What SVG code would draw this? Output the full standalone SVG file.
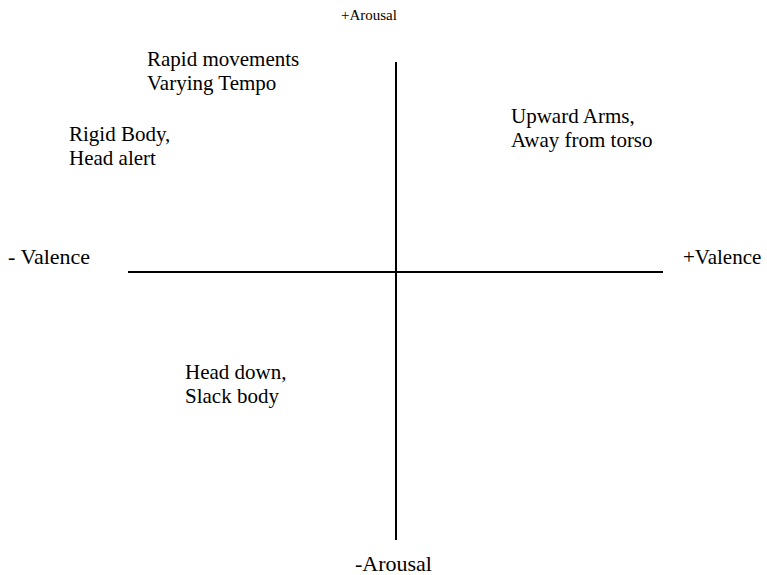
<svg xmlns="http://www.w3.org/2000/svg" width="767" height="575" viewBox="0 0 767 575">
<style>
text{font-family:"Liberation Serif","Times New Roman","DejaVu Serif",serif;font-size:21px;fill:#000}
.small{font-size:15px}
.big{font-size:22px}
.ax{stroke:#000;stroke-width:2;fill:none}
</style>
<rect width="767" height="575" fill="#fff"/>
<g id="axes">
<line class="ax" x1="396" y1="62" x2="396" y2="540"/>
<line class="ax" x1="128" y1="272" x2="663" y2="272"/>
</g>
<g id="axis-labels" font-family="Liberation Serif, serif">
<text class="small" x="341" y="20">+Arousal</text>
<text class="big" x="355" y="571">-Arousal</text>
<text class="big" x="8" y="264">- Valence</text>
<text x="683" y="264">+Valence</text>
</g>
<g id="node-rapid" font-family="Liberation Serif, serif"><text x="147" y="66">Rapid movements</text><text x="147" y="90">Varying Tempo</text></g>
<g id="node-rigid" font-family="Liberation Serif, serif"><text x="69" y="141">Rigid Body,</text><text x="69" y="165">Head alert</text></g>
<g id="node-upward" font-family="Liberation Serif, serif"><text x="511" y="123">Upward Arms,</text><text x="511" y="147">Away from torso</text></g>
<g id="node-head" font-family="Liberation Serif, serif"><text x="185" y="379">Head down,</text><text x="185" y="403">Slack body</text></g>
</svg>
